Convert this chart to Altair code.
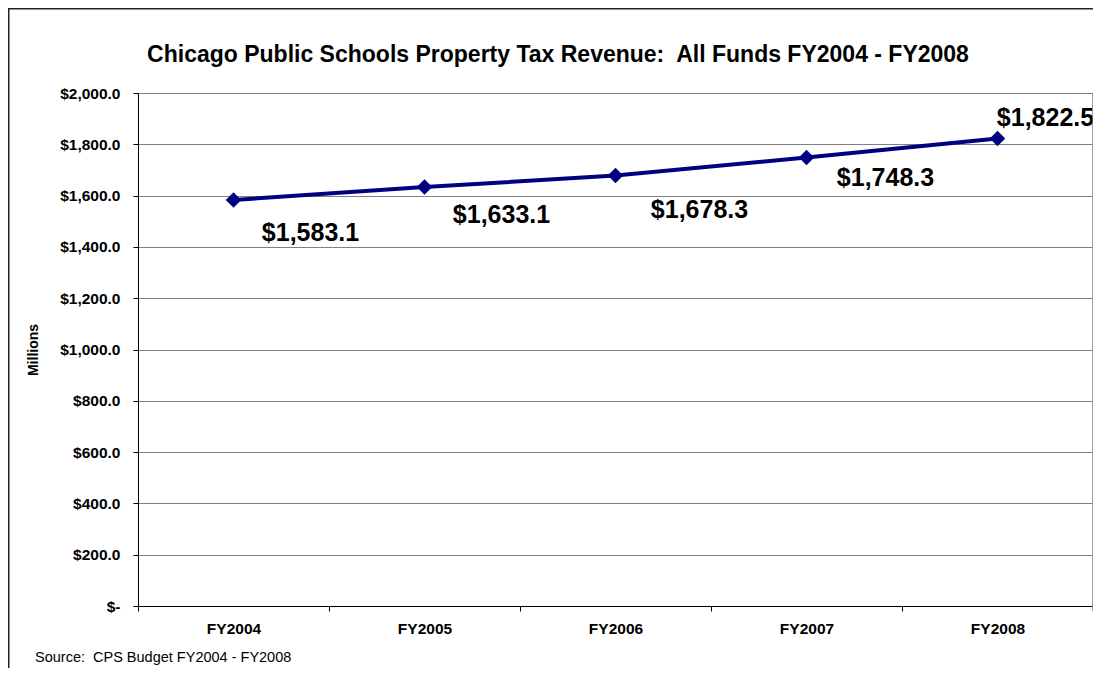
import altair as alt
import pandas as pd

years = ["FY2004", "FY2005", "FY2006", "FY2007", "FY2008"]
revenue = [1583.1, 1633.1, 1678.3, 1748.3, 1822.5]
y_ticks = [0, 200, 400, 600, 800, 1000, 1200, 1400, 1600, 1800, 2000]

title_text = "Chicago Public Schools Property Tax Revenue:\u00a0 All Funds FY2004 - FY2008"
source_text = "Source:\u00a0 CPS Budget FY2004 - FY2008"

# label offsets (pixels) relative to each point
label_dx = [77, 77, 84, 79, 48]
label_dy = [33, 28, 34, 20, -21]

df = pd.DataFrame({"year": years, "value": revenue})
df["label"] = ["$" + f"{v:,.1f}" for v in revenue]

FONT = "Liberation Sans"
W, H = 955, 513

x_enc = alt.X("year:N", sort=years, title=None,
              scale=alt.Scale(paddingInner=0, paddingOuter=0),
              axis=alt.Axis(labelAngle=0, labelFontSize=15.5, labelFontWeight="bold",
                            labelFont=FONT, labelColor="black", labelPadding=10,
                            tickSize=5, tickBand="extent", tickColor="black",
                            domainColor="black", grid=False))
y_enc = alt.Y("value:Q", title="Millions",
              scale=alt.Scale(domain=[0, 2000], nice=False),
              axis=alt.Axis(values=y_ticks,
                            labelExpr="datum.value == 0 ? '$-' : '$' + format(datum.value, ',.1f')",
                            labelFontSize=15.5, labelFontWeight="bold", labelFont=FONT,
                            labelColor="black", labelPadding=13, tickSize=5,
                            tickColor="black", domainColor="black",
                            grid=True, gridColor="#808080", gridWidth=1.2,
                            titleFont=FONT, titleFontSize=14, titleFontWeight="bold",
                            titleColor="black", titleAngle=-90, titleX=-105, titleY=H / 2,
                            titleAlign="center", titleBaseline="middle"))

base = alt.Chart(df)

line = base.mark_line(color="#000080", strokeWidth=4).encode(x=x_enc, y=y_enc)
pts = base.mark_point(shape="diamond", filled=True, size=240, color="#000080", opacity=1).encode(
    x=alt.X("year:N", sort=years), y="value:Q")

labels = []
for i, yr in enumerate(years):
    labels.append(
        base.transform_filter(alt.datum.year == yr)
        .mark_text(font=FONT, fontSize=25, fontWeight="bold", color="black",
                   dx=label_dx[i], dy=label_dy[i], align="center", baseline="middle")
        .encode(x=alt.X("year:N", sort=years), y="value:Q", text="label:N")
    )

one = base.transform_filter(alt.datum.year == years[0])

title = one.mark_text(font=FONT, fontSize=23, fontWeight="bold", color="black",
                      align="center", baseline="middle", text=title_text).encode(
    x=alt.value(420), y=alt.value(-38))

src = one.mark_text(font=FONT, fontSize=14.5, color="black", align="left",
                    baseline="middle", text=source_text).encode(
    x=alt.value(-103), y=alt.value(565))

border_top = one.mark_rule(color="#222222", strokeWidth=3).encode(
    x=alt.value(-130), x2=alt.value(W + 1), y=alt.value(-85))
border_left = one.mark_rule(color="#222222", strokeWidth=3).encode(
    x=alt.value(-130), y=alt.value(-85), y2=alt.value(H + 62))

plot_right = one.mark_rule(color="#808080", strokeWidth=1.5).encode(
    x=alt.value(W), y=alt.value(0), y2=alt.value(H + 5))

chart = alt.layer(line, pts, *labels, title, src, border_top, border_left, plot_right).properties(
    width=W, height=H,
    autosize=alt.AutoSizeParams(type="none"),
    padding={"left": 130, "top": 85, "right": 0, "bottom": 63},
).configure_view(strokeWidth=0).configure(background="white")

chart.save("out.html", embed_options={"renderer": "svg", "actions": False})
